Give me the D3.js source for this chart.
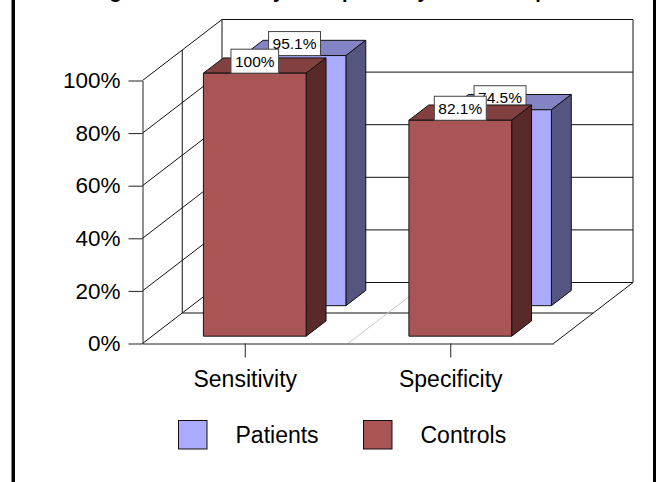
<!DOCTYPE html>
<html>
<head>
<meta charset="utf-8">
<script src="https://cdn.jsdelivr.net/npm/d3@7"></script>
<style>
  html, body { margin: 0; padding: 0; background: #fff; overflow: hidden; }
  svg { display: block; font-family: "Liberation Sans", Arial, sans-serif; }
  .axis text { font-size: 22.5px; fill: #000; }
  .axis-x text { font-size: 23px; }
  .axis line, .axis path { stroke: #222; stroke-width: 1; }
</style>
</head>
<body>
<svg id="chart" width="656" height="482"></svg>
<script>
const categories = ["Sensitivity", "Specificity"];
const patients = [95.1, 74.5];
const controls = [100, 82.1];
const patientLabels = ["95.1%", "74.5%"];
const controlLabels = ["100%", "82.1%"];
const yTicks = [0, 20, 40, 60, 80, 100];
const legendNames = ["Patients", "Controls"];
const titleText = "Diagnostic sensitivity and specificity of the test panel";

const svg = d3.select("#chart");

const margin = { left: 142.5, right: 553.5, top: 80.5, bottom: 343.5 };
// how far the back wall sits from the front plane
const depthX = 79.5;
const depthY = 61;

const xScale = d3.scaleBand().domain(categories).range([margin.left, margin.right]);
const yScale = d3.scaleLinear().domain([0, 100]).range([margin.bottom, margin.top]);

const px = (x, d) => x + d * depthX;
const py = (y, d) => y - d * depthY;

const colors = {
  patients: { front: "#aaaaff", top: "#8484c4", side: "#555582" },
  controls: { front: "#aa5555", top: "#834040", side: "#5a2a2a" },
};

// frame and cropped title
svg.append("rect").attr("x", 11.5).attr("y", 0).attr("width", 3.5).attr("height", 482).attr("fill", "#000");
svg.append("rect").attr("x", 653).attr("y", 0).attr("width", 3).attr("height", 482).attr("fill", "#000");
svg.append("text").attr("x", 333).attr("y", -2).attr("text-anchor", "middle")
  .attr("font-size", 20).attr("font-weight", "bold").text(titleText);

// walls
const walls = svg.append("g").attr("fill", "none").attr("stroke", "#111").attr("stroke-width", 1);
const wallLine = (x1, y1, x2, y2, color) => walls.append("line")
  .attr("x1", x1).attr("y1", y1).attr("x2", x2).attr("y2", y2)
  .attr("stroke", color || "#111");

yTicks.forEach((t) => {
  const y = yScale(t);
  wallLine(margin.left, y, px(margin.left, 1), py(y, 1));
  wallLine(px(margin.left, 1), py(y, 1), px(margin.right, 1), py(y, 1));
});
wallLine(px(margin.left, 1), py(yScale(100), 1), px(margin.left, 1), py(yScale(0), 1));
wallLine(px(margin.right, 1), py(yScale(100), 1), px(margin.right, 1), py(yScale(0), 1));
wallLine(margin.right, margin.bottom, px(margin.right, 1), py(margin.bottom, 1));
// mid depth lines
wallLine(px(margin.left, 0.5), py(yScale(100), 0.5), px(margin.left, 0.5), py(yScale(0), 0.5));
wallLine(px(margin.left, 0.5), py(yScale(0), 0.5), px(margin.right, 0.5), py(yScale(0), 0.5));
// floor divider between the two categories
const midX = xScale(categories[1]);
wallLine(midX, margin.bottom, px(midX, 1), py(margin.bottom, 1), "#c8c8c8");

// axes
svg.append("g").attr("class", "axis").attr("transform", `translate(${margin.left},0)`)
  .call(d3.axisLeft(yScale).tickValues(yTicks).tickFormat((d) => d + "%").tickSize(14).tickPadding(8).tickSizeOuter(0));
svg.append("g").attr("class", "axis axis-x").attr("transform", `translate(0,${margin.bottom})`)
  .call(d3.axisBottom(xScale).tickSize(14).tickPadding(13).tickSizeOuter(0));

// bars
const barWidth = xScale.bandwidth() * 0.5;
const barDepth = 0.25;

const drawBar = (category, value, label, depth, color) => {
  const cx = xScale(category) + xScale.bandwidth() / 2;
  const x0 = px(cx - barWidth / 2, depth);
  const x1 = x0 + barWidth;
  const yTop = py(yScale(value), depth);
  const yBase = py(yScale(0), depth);
  const dx = barDepth * depthX;
  const dy = barDepth * depthY;
  const g = svg.append("g").attr("stroke", "#111").attr("stroke-width", 1).attr("stroke-linejoin", "round");

  g.append("path").attr("fill", color.top)
    .attr("d", d3.line()([[x0, yTop], [x0 + dx, yTop - dy], [x1 + dx, yTop - dy], [x1, yTop]]) + "Z");
  g.append("path").attr("fill", color.side)
    .attr("d", d3.line()([[x1, yTop], [x1 + dx, yTop - dy], [x1 + dx, yBase - dy], [x1, yBase]]) + "Z");
  g.append("rect").attr("fill", color.front)
    .attr("x", x0).attr("y", yTop).attr("width", barWidth).attr("height", yBase - yTop);

  const lab = svg.append("g");
  const box = lab.append("rect").attr("fill", "#fff").attr("stroke", "#444").attr("stroke-width", 1);
  const txt = lab.append("text").attr("x", x0 + barWidth / 2).attr("y", yTop - 6.5)
    .attr("text-anchor", "middle").attr("font-size", 15.5).text(label);
  const w = txt.node().getComputedTextLength() + 8;
  box.attr("x", x0 + barWidth / 2 - w / 2).attr("y", yTop - 24).attr("width", w).attr("height", 24);
};

categories.forEach((c, i) => {
  drawBar(c, patients[i], patientLabels[i], 0.62, colors.patients);
  drawBar(c, controls[i], controlLabels[i], 0.12, colors.controls);
});

// legend
const legendX = d3.scalePoint().domain(legendNames).range([178.5, 363.5]);
const legendFill = { Patients: colors.patients.front, Controls: colors.controls.front };
const legend = svg.append("g").selectAll("g").data(legendNames).join("g")
  .attr("transform", (d) => `translate(${legendX(d)},420.5)`);
legend.append("rect").attr("width", 28.5).attr("height", 28.5)
  .attr("fill", (d) => legendFill[d]).attr("stroke", "#111");
legend.append("text").attr("x", 57).attr("y", 22.5).attr("font-size", 23).text((d) => d);
</script>
</body>
</html>
